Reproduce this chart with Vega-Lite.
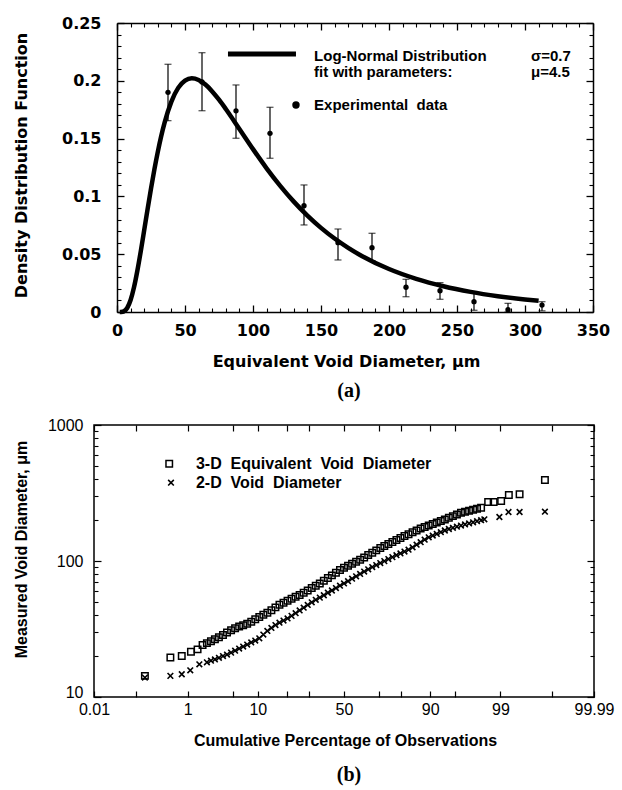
{
  "$schema": "https://vega.github.io/schema/vega-lite/v6.json",
  "background": "white",
  "padding": {"left": 12, "top": 15, "right": 0, "bottom": 0},
  "columns": 1,
  "spacing": 15,
  "concat": [
    {
      "width": 500,
      "height": 289,
      "view": {"stroke": null},
      "title": {"text": "(a)", "orient": "bottom", "anchor": "middle", "frame": "group", "font": "Liberation Serif", "fontSize": 20, "fontWeight": "bold", "color": "black", "offset": 12, "dx": 5},
      "resolve": {"axis": {"x": "independent", "y": "independent"}},
      "layer": [
        {
          "data": {"name": "curve"},
          "mark": {"type": "line", "color": "black", "strokeWidth": 4.5, "interpolate": "monotone"},
          "encoding": {
            "x": {"field": "x", "type": "quantitative", "scale": {"domain": [0, 350], "range": [23, 499], "nice": false, "zero": false},
              "axis": {"orient": "bottom", "values": [0, 50, 100, 150, 200, 250, 300, 350], "domain": true, "domainWidth": 1.5, "tickSize": -7, "tickWidth": 1.3, "labelExpr": "format(datum.value,'d')", "labelFont": "DejaVu Sans", "labelFontWeight": "bold", "labelFontSize": 16, "labelPadding": 17, "labelFlush": false, "labelOverlap": false, "title": "Equivalent Void Diameter, μm", "titleFont": "DejaVu Sans", "titleFontWeight": "bold", "titleFontSize": 16, "titleX": 252, "titleY": 49, "titleBaseline": "middle"}},
            "y": {"field": "y", "type": "quantitative", "scale": {"domain": [0, 0.25], "nice": false, "zero": false},
              "axis": {"orient": "left", "offset": -23, "values": [0, 0.05, 0.1, 0.15, 0.2, 0.25], "domain": true, "domainWidth": 1.5, "tickSize": -7, "tickWidth": 1.3, "labelExpr": "format(datum.value,'~g')", "labelFont": "DejaVu Sans", "labelFontWeight": "bold", "labelFontSize": 16, "labelPadding": 23, "labelOverlap": false, "title": "Density Distribution Function", "titleFont": "DejaVu Sans", "titleFontWeight": "bold", "titleFontSize": 16, "titleX": -96, "titleY": 142, "titleBaseline": "middle"}}
          }
        },
        {
          "data": {"name": "obs"},
          "mark": {"type": "rule", "color": "black", "strokeWidth": 1.2},
          "encoding": {
            "x": {"field": "x", "type": "quantitative", "scale": {"domain": [0, 350], "range": [23, 499], "nice": false, "zero": false},
              "axis": {"orient": "bottom", "values": [10, 20, 30, 40, 60, 70, 80, 90, 110, 120, 130, 140, 160, 170, 180, 190, 210, 220, 230, 240, 260, 270, 280, 290, 310, 320, 330, 340], "tickSize": -4, "tickWidth": 1.1, "labels": false, "title": null}},
            "y": {"field": "lo", "type": "quantitative", "scale": {"domain": [0, 0.25], "nice": false, "zero": false},
              "axis": {"orient": "left", "offset": -23, "values": [0.01, 0.02, 0.03, 0.04, 0.06, 0.07, 0.08, 0.09, 0.11, 0.12, 0.13, 0.14, 0.16, 0.17, 0.18, 0.19, 0.21, 0.22, 0.23, 0.24], "tickSize": -4, "tickWidth": 1.1, "labels": false, "title": null}},
            "y2": {"field": "hi"}
          }
        },
        {
          "data": {"name": "obs"},
          "mark": {"type": "tick", "orient": "horizontal", "color": "black", "size": 7, "thickness": 1.2},
          "encoding": {
            "x": {"field": "x", "type": "quantitative", "scale": {"domain": [0, 350], "range": [23, 499], "nice": false, "zero": false},
              "axis": {"orient": "top", "values": [0, 50, 100, 150, 200, 250, 300, 350], "domain": true, "domainWidth": 1.5, "tickSize": -7, "tickWidth": 1.3, "labels": false, "title": null}},
            "y": {"field": "hi", "type": "quantitative", "scale": {"domain": [0, 0.25], "nice": false, "zero": false},
              "axis": {"orient": "right", "offset": -1, "values": [0, 0.05, 0.1, 0.15, 0.2, 0.25], "domain": true, "domainWidth": 1.5, "tickSize": -7, "tickWidth": 1.3, "labels": false, "title": null}}
          }
        },
        {
          "data": {"name": "obs"},
          "mark": {"type": "tick", "orient": "horizontal", "color": "black", "size": 7, "thickness": 1.2},
          "encoding": {
            "x": {"field": "x", "type": "quantitative", "scale": {"domain": [0, 350], "range": [23, 499], "nice": false, "zero": false},
              "axis": {"orient": "top", "values": [10, 20, 30, 40, 60, 70, 80, 90, 110, 120, 130, 140, 160, 170, 180, 190, 210, 220, 230, 240, 260, 270, 280, 290, 310, 320, 330, 340], "tickSize": -4, "tickWidth": 1.1, "labels": false, "title": null}},
            "y": {"field": "lo", "type": "quantitative", "scale": {"domain": [0, 0.25], "nice": false, "zero": false},
              "axis": {"orient": "right", "offset": -1, "values": [0.01, 0.02, 0.03, 0.04, 0.06, 0.07, 0.08, 0.09, 0.11, 0.12, 0.13, 0.14, 0.16, 0.17, 0.18, 0.19, 0.21, 0.22, 0.23, 0.24], "tickSize": -4, "tickWidth": 1.1, "labels": false, "title": null}}
          }
        },
        {
          "data": {"name": "obs"},
          "mark": {"type": "point", "shape": "circle", "filled": true, "color": "black", "opacity": 1, "size": 28},
          "encoding": {
            "x": {"field": "x", "type": "quantitative", "scale": {"domain": [0, 350], "range": [23, 499], "nice": false, "zero": false}, "axis": null},
            "y": {"field": "y", "type": "quantitative", "scale": {"domain": [0, 0.25], "nice": false, "zero": false}, "axis": null}
          }
        },
        {
          "data": {"name": "legA_line"},
          "mark": {"type": "line", "color": "black", "strokeWidth": 5},
          "encoding": {
            "x": {"field": "x", "type": "quantitative", "scale": {"domain": [0, 350], "range": [23, 499], "nice": false, "zero": false}, "axis": null},
            "y": {"field": "y", "type": "quantitative", "scale": {"domain": [0, 0.25], "nice": false, "zero": false}, "axis": null}
          }
        },
        {
          "data": {"name": "legA_dot"},
          "mark": {"type": "point", "shape": "circle", "filled": true, "color": "black", "opacity": 1, "size": 55},
          "encoding": {
            "x": {"field": "x", "type": "quantitative", "scale": {"domain": [0, 350], "range": [23, 499], "nice": false, "zero": false}, "axis": null},
            "y": {"field": "y", "type": "quantitative", "scale": {"domain": [0, 0.25], "nice": false, "zero": false}, "axis": null}
          }
        },
        {
          "data": {"name": "legA_text"},
          "mark": {"type": "text", "align": "left", "baseline": "middle", "font": "Liberation Sans", "fontWeight": "bold", "fontSize": 15, "color": "black"},
          "encoding": {
            "x": {"field": "x", "type": "quantitative", "scale": {"domain": [0, 350], "range": [23, 499], "nice": false, "zero": false}, "axis": null},
            "y": {"field": "y", "type": "quantitative", "scale": {"domain": [0, 0.25], "nice": false, "zero": false}, "axis": null},
            "text": {"field": "t"}
          }
        }
      ]
    },
    {
      "width": 500,
      "height": 272,
      "title": {"text": "(b)", "orient": "bottom", "anchor": "middle", "frame": "group", "font": "Liberation Serif", "fontSize": 20, "fontWeight": "bold", "color": "black", "offset": 17, "dx": 5},
      "resolve": {"axis": {"x": "independent", "y": "independent"}},
      "layer": [
        {
          "data": {"name": "probs"},
          "transform": [{"filter": "datum.s == '3D'"}, {"calculate": "quantileNormal(datum.p / 100)", "as": "z"}],
          "mark": {"type": "point", "shape": "square", "filled": false, "stroke": "black", "strokeWidth": 1.5, "opacity": 1, "size": 42},
          "encoding": {
            "x": {"field": "z", "type": "quantitative", "scale": {"domain": [-3.719016, 3.719016], "nice": false, "zero": false},
              "axis": {"orient": "bottom", "values": [-3.719, -3.0902, -2.3263, -1.6449, -1.2816, -0.8416, -0.5244, 0, 0.5244, 0.8416, 1.2816, 1.6449, 2.3263, 3.0902, 3.719], "tickSize": -6, "tickWidth": 1.2, "labelExpr": "datum.value < -3.5 ? '0.01' : (abs(datum.value + 2.3263) < 0.001 ? '1' : (abs(datum.value + 1.2816) < 0.001 ? '10' : (abs(datum.value) < 0.001 ? '50' : (abs(datum.value - 1.2816) < 0.001 ? '90' : (abs(datum.value - 2.3263) < 0.001 ? '99' : (datum.value > 3.5 ? '99.99' : ''))))))", "labelFont": "Liberation Sans", "labelFontSize": 16, "labelPadding": 10, "labelFlush": false, "labelOverlap": false, "title": "Cumulative Percentage of Observations", "titleFont": "Liberation Sans", "titleFontWeight": "bold", "titleFontSize": 16, "titleX": 251, "titleY": 43, "titleBaseline": "middle"}},
            "y": {"field": "d", "type": "quantitative", "scale": {"type": "log", "domain": [10, 1000], "nice": false},
              "axis": {"orient": "left", "values": [10, 100, 1000], "tickSize": -7, "tickWidth": 1.2, "labelExpr": "datum.value == 10 ? '10' : (datum.value == 100 ? '100' : '1000')", "labelOffset": {"condition": {"test": "datum.value == 10", "value": -5}, "value": 0}, "labelFont": "Liberation Sans", "labelFontSize": 16, "labelPadding": 18, "labelOverlap": false, "title": "Measured Void Diameter, μm", "titleFont": "Liberation Sans", "titleFontWeight": "bold", "titleFontSize": 16, "titleX": -73, "titleY": 124, "titleBaseline": "middle"}}
          }
        },
        {
          "data": {"name": "probs"},
          "transform": [{"filter": "datum.s == '2D'"}, {"calculate": "quantileNormal(datum.p / 100)", "as": "z"}],
          "mark": {"type": "point", "shape": "M-1,-1L1,1M-1,1L1,-1", "filled": false, "stroke": "black", "strokeWidth": 1.6, "opacity": 1, "size": 32},
          "encoding": {
            "x": {"field": "z", "type": "quantitative", "scale": {"domain": [-3.719016, 3.719016], "nice": false, "zero": false},
              "axis": {"orient": "top", "values": [-3.719, -3.0902, -2.3263, -1.6449, -1.2816, -0.8416, -0.5244, 0, 0.5244, 0.8416, 1.2816, 1.6449, 2.3263, 3.0902, 3.719], "tickSize": -6, "tickWidth": 1.2, "labels": false, "title": null}},
            "y": {"field": "d", "type": "quantitative", "scale": {"type": "log", "domain": [10, 1000], "nice": false},
              "axis": {"orient": "left", "values": [20, 30, 40, 50, 60, 70, 80, 90, 200, 300, 400, 500, 600, 700, 800, 900], "tickSize": -4, "tickWidth": 1.1, "labels": false, "title": null}}
          }
        },
        {
          "data": {"name": "legB"},
          "transform": [{"filter": "datum.s == '3D'"}, {"calculate": "quantileNormal(datum.p / 100)", "as": "z"}],
          "mark": {"type": "point", "shape": "square", "filled": false, "stroke": "black", "strokeWidth": 1.5, "opacity": 1, "size": 42},
          "encoding": {
            "x": {"field": "z", "type": "quantitative", "scale": {"domain": [-3.719016, 3.719016], "nice": false, "zero": false}, "axis": null},
            "y": {"field": "d", "type": "quantitative", "scale": {"type": "log", "domain": [10, 1000], "nice": false},
              "axis": {"orient": "right", "values": [10, 100, 1000], "tickSize": -7, "tickWidth": 1.2, "labels": false, "title": null}}
          }
        },
        {
          "data": {"name": "legB"},
          "transform": [{"filter": "datum.s == '2D'"}, {"calculate": "quantileNormal(datum.p / 100)", "as": "z"}],
          "mark": {"type": "point", "shape": "M-1,-1L1,1M-1,1L1,-1", "filled": false, "stroke": "black", "strokeWidth": 1.6, "opacity": 1, "size": 32},
          "encoding": {
            "x": {"field": "z", "type": "quantitative", "scale": {"domain": [-3.719016, 3.719016], "nice": false, "zero": false}, "axis": null},
            "y": {"field": "d", "type": "quantitative", "scale": {"type": "log", "domain": [10, 1000], "nice": false},
              "axis": {"orient": "right", "values": [20, 30, 40, 50, 60, 70, 80, 90, 200, 300, 400, 500, 600, 700, 800, 900], "tickSize": -4, "tickWidth": 1.1, "labels": false, "title": null}}
          }
        },
        {
          "data": {"name": "legB_text"},
          "transform": [{"calculate": "quantileNormal(datum.p / 100)", "as": "z"}],
          "mark": {"type": "text", "align": "left", "baseline": "middle", "font": "Liberation Sans", "fontWeight": "bold", "fontSize": 16, "color": "black"},
          "encoding": {
            "x": {"field": "z", "type": "quantitative", "scale": {"domain": [-3.719016, 3.719016], "nice": false, "zero": false}, "axis": null},
            "y": {"field": "d", "type": "quantitative", "scale": {"type": "log", "domain": [10, 1000], "nice": false}, "axis": null},
            "text": {"field": "t"}
          }
        }
      ]
    }
  ],
  "datasets": {
    "curve": [
      {"x": 2, "y": 0}, {"x": 3, "y": 0.00004}, {"x": 5, "y": 0.00057}, {"x": 7.5, "y": 0.00348}, {"x": 10, "y": 0.01033},
      {"x": 12.5, "y": 0.02136}, {"x": 15, "y": 0.03588}, {"x": 17.5, "y": 0.05272}, {"x": 20, "y": 0.07078}, {"x": 22.5, "y": 0.08907},
      {"x": 25, "y": 0.10677}, {"x": 27.5, "y": 0.12339}, {"x": 30, "y": 0.13854}, {"x": 35, "y": 0.16376}, {"x": 40, "y": 0.18203},
      {"x": 45, "y": 0.19387}, {"x": 50, "y": 0.20025}, {"x": 55, "y": 0.20222}, {"x": 60, "y": 0.20075}, {"x": 65, "y": 0.19672},
      {"x": 70, "y": 0.19082}, {"x": 75, "y": 0.18362}, {"x": 80, "y": 0.17559}, {"x": 90, "y": 0.15831}, {"x": 100, "y": 0.14088},
      {"x": 110, "y": 0.12432}, {"x": 120, "y": 0.10913}, {"x": 130, "y": 0.09549}, {"x": 140, "y": 0.0834}, {"x": 150, "y": 0.07279},
      {"x": 160, "y": 0.06354}, {"x": 170, "y": 0.05548}, {"x": 180, "y": 0.04849}, {"x": 200, "y": 0.03718}, {"x": 220, "y": 0.02867},
      {"x": 240, "y": 0.02225}, {"x": 260, "y": 0.01739}, {"x": 280, "y": 0.01368}, {"x": 300, "y": 0.01083}, {"x": 310, "y": 0.00965}
    ],
    "obs": [
      {"x": 37.5, "y": 0.190, "lo": 0.1655, "hi": 0.2143},
      {"x": 62.5, "y": 0.199, "lo": 0.1741, "hi": 0.2243},
      {"x": 87.5, "y": 0.174, "lo": 0.1503, "hi": 0.1964},
      {"x": 112.5, "y": 0.1546, "lo": 0.133, "hi": 0.1771},
      {"x": 137.5, "y": 0.092, "lo": 0.0753, "hi": 0.1099},
      {"x": 162.5, "y": 0.060, "lo": 0.045, "hi": 0.0718},
      {"x": 187.5, "y": 0.0556, "lo": 0.0444, "hi": 0.0681},
      {"x": 212.5, "y": 0.0214, "lo": 0.0132, "hi": 0.0283},
      {"x": 237.5, "y": 0.0184, "lo": 0.011, "hi": 0.0254},
      {"x": 262.5, "y": 0.0089, "lo": 0.0015, "hi": 0.0162},
      {"x": 287.5, "y": 0.002, "lo": 0.0, "hi": 0.0075},
      {"x": 312.5, "y": 0.006, "lo": 0.001, "hi": 0.0089}
    ],
    "legA_line": [{"x": 81.6, "y": 0.2232}, {"x": 131.6, "y": 0.2232}],
    "legA_dot": [{"x": 131.6, "y": 0.1791}],
    "legA_text": [
      {"x": 144.9, "y": 0.2215, "t": "Log-Normal Distribution"},
      {"x": 144.9, "y": 0.2072, "t": "fit with parameters:"},
      {"x": 304.4, "y": 0.2215, "t": "σ=0.7"},
      {"x": 304.4, "y": 0.2072, "t": "μ=4.5"},
      {"x": 144.9, "y": 0.1791, "t": "Experimental\u00a0\u00a0data"}
    ],
    "legB": [
      {"s": "3D", "p": 0.466, "d": 519},
      {"s": "2D", "p": 0.503, "d": 376.5}
    ],
    "legB_text": [
      {"p": 1.382, "d": 519, "t": "3-D\u00a0\u00a0Equivalent\u00a0\u00a0Void\u00a0\u00a0Diameter"},
      {"p": 1.382, "d": 376.5, "t": "2-D\u00a0\u00a0Void\u00a0\u00a0Diameter"}
    ],
    "probs": [
      {"s": "3D", "p": 0.153, "d": 14.3}, {"s": "3D", "p": 0.49, "d": 19.5}, {"s": "3D", "p": 0.79, "d": 20.0}, {"s": "3D", "p": 1.14, "d": 21.5},
      {"s": "3D", "p": 1.47, "d": 22.4}, {"s": "3D", "p": 1.77, "d": 24.1},
      {"s": "3D", "p": 2.07, "d": 24.9}, {"s": "3D", "p": 2.39, "d": 25.7}, {"s": "3D", "p": 2.74, "d": 26.6}, {"s": "3D", "p": 3.14, "d": 27.5},
      {"s": "3D", "p": 3.59, "d": 28.6}, {"s": "3D", "p": 4.09, "d": 29.8}, {"s": "3D", "p": 4.65, "d": 31.0}, {"s": "3D", "p": 5.26, "d": 32.0},
      {"s": "3D", "p": 5.94, "d": 33.0}, {"s": "3D", "p": 6.68, "d": 33.7}, {"s": "3D", "p": 7.49, "d": 34.5}, {"s": "3D", "p": 8.38, "d": 35.8},
      {"s": "3D", "p": 9.34, "d": 37.3}, {"s": "3D", "p": 10.38, "d": 38.8}, {"s": "3D", "p": 11.51, "d": 40.2}, {"s": "3D", "p": 12.71, "d": 41.6},
      {"s": "3D", "p": 14.01, "d": 43.5}, {"s": "3D", "p": 15.39, "d": 45.6}, {"s": "3D", "p": 16.85, "d": 47.6}, {"s": "3D", "p": 18.41, "d": 49.3},
      {"s": "3D", "p": 20.05, "d": 51.0}, {"s": "3D", "p": 21.77, "d": 52.7}, {"s": "3D", "p": 23.58, "d": 54.5}, {"s": "3D", "p": 25.46, "d": 56.2},
      {"s": "3D", "p": 27.43, "d": 58.5}, {"s": "3D", "p": 29.46, "d": 60.8}, {"s": "3D", "p": 31.56, "d": 63.2}, {"s": "3D", "p": 33.72, "d": 65.8},
      {"s": "3D", "p": 35.94, "d": 68.4}, {"s": "3D", "p": 38.21, "d": 71.5}, {"s": "3D", "p": 40.52, "d": 74.9}, {"s": "3D", "p": 42.86, "d": 78.4},
      {"s": "3D", "p": 45.22, "d": 82.0}, {"s": "3D", "p": 47.61, "d": 85.9}, {"s": "3D", "p": 50.0, "d": 89.1}, {"s": "3D", "p": 52.39, "d": 92.2},
      {"s": "3D", "p": 54.78, "d": 95.4}, {"s": "3D", "p": 57.14, "d": 98.7}, {"s": "3D", "p": 59.48, "d": 102.1}, {"s": "3D", "p": 61.79, "d": 106.3},
      {"s": "3D", "p": 64.06, "d": 110.5}, {"s": "3D", "p": 66.28, "d": 114.9}, {"s": "3D", "p": 68.44, "d": 119.7}, {"s": "3D", "p": 70.54, "d": 124.4},
      {"s": "3D", "p": 72.57, "d": 128.7}, {"s": "3D", "p": 74.54, "d": 133.4}, {"s": "3D", "p": 76.42, "d": 137.9}, {"s": "3D", "p": 78.23, "d": 142.7},
      {"s": "3D", "p": 79.95, "d": 147.6}, {"s": "3D", "p": 81.59, "d": 152.5}, {"s": "3D", "p": 83.15, "d": 157.4}, {"s": "3D", "p": 84.61, "d": 162.6},
      {"s": "3D", "p": 85.99, "d": 167.9}, {"s": "3D", "p": 87.29, "d": 173.4}, {"s": "3D", "p": 88.49, "d": 177.8}, {"s": "3D", "p": 89.62, "d": 182.4},
      {"s": "3D", "p": 90.66, "d": 187.1}, {"s": "3D", "p": 91.62, "d": 191.6}, {"s": "3D", "p": 92.51, "d": 196.6}, {"s": "3D", "p": 93.32, "d": 202.3},
      {"s": "3D", "p": 94.06, "d": 207.8}, {"s": "3D", "p": 94.74, "d": 213.8}, {"s": "3D", "p": 95.35, "d": 220.1}, {"s": "3D", "p": 95.91, "d": 226.5},
      {"s": "3D", "p": 96.41, "d": 230.4}, {"s": "3D", "p": 96.86, "d": 234.4}, {"s": "3D", "p": 97.26, "d": 238.4}, {"s": "3D", "p": 97.61, "d": 242.4},
      {"s": "3D", "p": 97.93, "d": 246.6}, {"s": "3D", "p": 98.4, "d": 271.6}, {"s": "3D", "p": 98.7, "d": 272.0}, {"s": "3D", "p": 99.03, "d": 276.2},
      {"s": "3D", "p": 99.29, "d": 305.7}, {"s": "3D", "p": 99.55, "d": 309.3}, {"s": "3D", "p": 99.86, "d": 394.0},
      {"s": "2D", "p": 0.153, "d": 13.9}, {"s": "2D", "p": 0.49, "d": 14.3}, {"s": "2D", "p": 0.79, "d": 14.7}, {"s": "2D", "p": 1.11, "d": 15.7},
      {"s": "2D", "p": 1.57, "d": 17.4},
      {"s": "2D", "p": 2.07, "d": 18.0}, {"s": "2D", "p": 2.39, "d": 18.5}, {"s": "2D", "p": 2.74, "d": 18.9}, {"s": "2D", "p": 3.14, "d": 19.4},
      {"s": "2D", "p": 3.59, "d": 20.0}, {"s": "2D", "p": 4.09, "d": 20.5}, {"s": "2D", "p": 4.65, "d": 21.2}, {"s": "2D", "p": 5.26, "d": 21.9},
      {"s": "2D", "p": 5.94, "d": 22.7}, {"s": "2D", "p": 6.68, "d": 23.5}, {"s": "2D", "p": 7.49, "d": 24.3}, {"s": "2D", "p": 8.38, "d": 25.2},
      {"s": "2D", "p": 9.34, "d": 26.0}, {"s": "2D", "p": 10.38, "d": 27.0}, {"s": "2D", "p": 11.51, "d": 28.8}, {"s": "2D", "p": 12.71, "d": 30.6},
      {"s": "2D", "p": 14.01, "d": 32.2}, {"s": "2D", "p": 15.39, "d": 33.8}, {"s": "2D", "p": 16.85, "d": 35.2}, {"s": "2D", "p": 18.41, "d": 36.5},
      {"s": "2D", "p": 20.05, "d": 37.8}, {"s": "2D", "p": 21.77, "d": 39.5}, {"s": "2D", "p": 23.58, "d": 41.3}, {"s": "2D", "p": 25.46, "d": 43.3},
      {"s": "2D", "p": 27.43, "d": 45.4}, {"s": "2D", "p": 29.46, "d": 47.5}, {"s": "2D", "p": 31.56, "d": 49.7}, {"s": "2D", "p": 33.72, "d": 51.8},
      {"s": "2D", "p": 35.94, "d": 53.8}, {"s": "2D", "p": 38.21, "d": 56.0}, {"s": "2D", "p": 40.52, "d": 58.4}, {"s": "2D", "p": 42.86, "d": 60.7},
      {"s": "2D", "p": 45.22, "d": 63.2}, {"s": "2D", "p": 47.61, "d": 65.8}, {"s": "2D", "p": 50.0, "d": 68.4}, {"s": "2D", "p": 52.39, "d": 71.1},
      {"s": "2D", "p": 54.78, "d": 74.1}, {"s": "2D", "p": 57.14, "d": 77.2}, {"s": "2D", "p": 59.48, "d": 80.3}, {"s": "2D", "p": 61.79, "d": 83.6},
      {"s": "2D", "p": 64.06, "d": 86.9}, {"s": "2D", "p": 66.28, "d": 90.2}, {"s": "2D", "p": 68.44, "d": 93.3}, {"s": "2D", "p": 70.54, "d": 96.5},
      {"s": "2D", "p": 72.57, "d": 99.8}, {"s": "2D", "p": 74.54, "d": 103.4}, {"s": "2D", "p": 76.42, "d": 106.8}, {"s": "2D", "p": 78.23, "d": 110.3},
      {"s": "2D", "p": 79.95, "d": 113.7}, {"s": "2D", "p": 81.59, "d": 117.3}, {"s": "2D", "p": 83.15, "d": 121.1}, {"s": "2D", "p": 84.61, "d": 126.1},
      {"s": "2D", "p": 85.99, "d": 131.8}, {"s": "2D", "p": 87.29, "d": 137.5}, {"s": "2D", "p": 88.49, "d": 143.4}, {"s": "2D", "p": 89.62, "d": 149.4},
      {"s": "2D", "p": 90.66, "d": 153.8}, {"s": "2D", "p": 91.62, "d": 158.2}, {"s": "2D", "p": 92.51, "d": 162.8}, {"s": "2D", "p": 93.32, "d": 167.6},
      {"s": "2D", "p": 94.06, "d": 171.9}, {"s": "2D", "p": 94.74, "d": 175.4}, {"s": "2D", "p": 95.35, "d": 178.7}, {"s": "2D", "p": 95.91, "d": 182.1},
      {"s": "2D", "p": 96.41, "d": 185.8}, {"s": "2D", "p": 96.86, "d": 189.0}, {"s": "2D", "p": 97.26, "d": 192.5}, {"s": "2D", "p": 97.61, "d": 196.2},
      {"s": "2D", "p": 97.93, "d": 199.5}, {"s": "2D", "p": 98.16, "d": 202.6}, {"s": "2D", "p": 98.96, "d": 210.7}, {"s": "2D", "p": 99.28, "d": 229.2},
      {"s": "2D", "p": 99.55, "d": 229.2}, {"s": "2D", "p": 99.86, "d": 230.4}
    ]
  },
  "config": {
    "view": {"stroke": "black", "strokeWidth": 1.5},
    "axis": {"grid": false, "domain": false, "domainColor": "black", "tickColor": "black", "labelColor": "black", "titleColor": "black"}
  }
}
